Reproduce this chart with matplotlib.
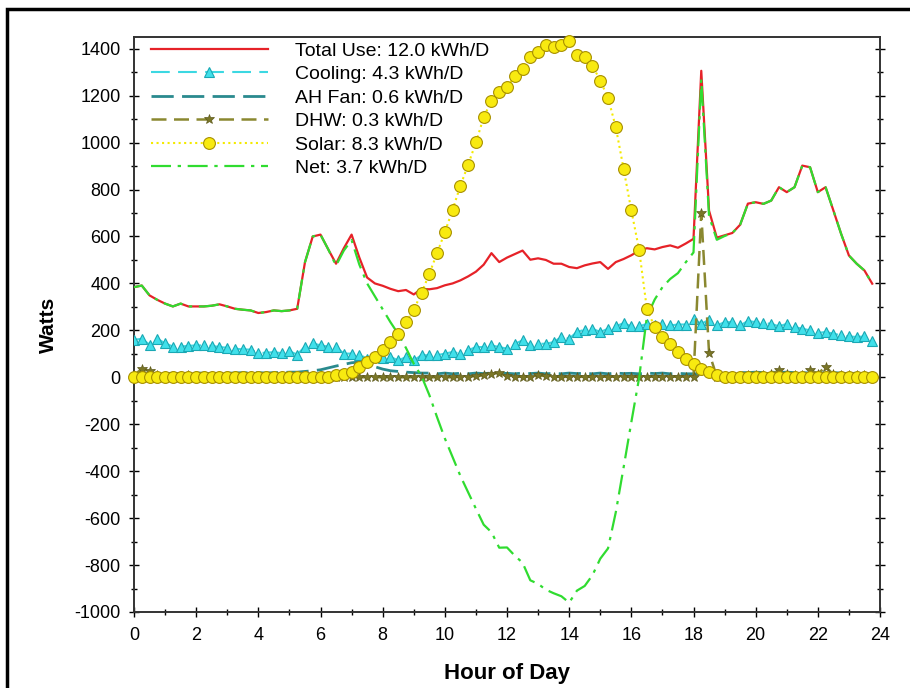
import numpy as np
import matplotlib
matplotlib.use("Agg")
import matplotlib.pyplot as plt
from matplotlib.patches import Rectangle
from matplotlib.ticker import MultipleLocator

plt.rcParams["font.family"] = ["Liberation Sans", "DejaVu Sans"]
plt.rcParams["axes.unicode_minus"] = False

# 15-minute data, 0:00 .. 23:45
hours = np.arange(96) * 0.25

total_use = [384, 391, 349, 330, 314, 302, 314, 302,
             302, 302, 305, 311, 302, 292, 288, 285,
             274, 278, 285, 282, 285, 292, 490, 600,
             608, 545, 484, 550, 608, 510, 425, 400,
             390, 377, 367, 372, 353, 377, 375, 380,
             392, 400, 413, 430, 450, 480, 529, 491,
             510, 525, 540, 501, 507, 500, 484, 484,
             470, 465, 477, 485, 491, 462, 491, 504,
             520, 540, 550, 545, 555, 562, 552, 570,
             590, 1306, 710, 595, 605, 615, 650, 740,
             746, 739, 753, 810, 789, 810, 902, 895,
             789, 810, 711, 611, 519, 484, 455, 399]

cooling = [160, 164, 139, 164, 145, 131, 131, 134,
           136, 136, 134, 129, 126, 122, 119, 118,
           103, 105, 107, 103, 111, 97, 131, 145,
           136, 131, 129, 101, 101, 97, 79, 87,
           82, 87, 72, 86, 72, 94, 94, 94,
           101, 108, 101, 115, 129, 129, 136, 129,
           122, 143, 157, 136, 143, 143, 150, 172,
           165, 193, 203, 207, 193, 207, 217, 231,
           217, 217, 228, 221, 228, 221, 225, 225,
           249, 228, 245, 221, 235, 235, 221, 240,
           235, 231, 228, 217, 228, 214, 207, 200,
           189, 193, 186, 179, 174, 172, 174, 155]

ah_fan = [15, 18, 15, 12, 15, 18, 15, 15,
          18, 18, 15, 15, 18, 18, 20, 18,
          20, 18, 20, 20, 22, 22, 25, 28,
          32, 40, 48, 55, 62, 65, 58, 45,
          35, 28, 25, 22, 20, 18, 18, 15,
          18, 15, 17, 15, 18, 16, 18, 15,
          17, 15, 18, 16, 18, 15, 17, 15,
          18, 16, 17, 15, 18, 15, 18, 16,
          17, 15, 18, 16, 18, 15, 17, 15,
          15, 15, 12, 10, 15, 18, 20, 20,
          22, 20, 22, 20, 22, 20, 20, 18,
          20, 18, 20, 18, 15, 18, 15, 15]

dhw = [10, 35, 25, 8, 5, 5, 5, 8,
       5, 5, 5, 5, 5, 5, 5, 5,
       5, 5, 5, 5, 5, 5, 5, 5,
       5, 5, 3, 0, 0, 0, 0, 0,
       0, 0, 0, 0, 0, 0, 0, 0,
       0, 0, 2, 3, 5, 8, 15, 18,
       5, 2, 3, 2, 8, 5, 3, 2,
       2, 2, 2, 2, 2, 3, 2, 2,
       2, 2, 2, 3, 2, 2, 3, 3,
       2, 700, 105, 3, 5, 5, 5, 8,
       8, 10, 12, 30, 12, 8, 10, 32,
       15, 45, 12, 8, 8, 10, 8, 5]

solar = [0, 0, 0, 0, 0, 0, 0, 0,
         0, 0, 0, 0, 0, 0, 0, 0,
         0, 0, 0, 0, 0, 0, 0, 0,
         0, 0, 8, 13, 23, 44, 65, 86,
         118, 150, 183, 235, 288, 359, 441, 529,
         618, 714, 816, 906, 1001, 1108, 1179, 1217,
         1235, 1285, 1315, 1366, 1384, 1417, 1406, 1417,
         1434, 1374, 1366, 1328, 1264, 1191, 1066, 889,
         711, 543, 292, 214, 171, 143, 108, 80,
         58, 37, 23, 9, 3, 0, 0, 0,
         0, 0, 0, 0, 0, 0, 0, 0,
         0, 0, 0, 0, 0, 0, 0, 0]

net = [384, 391, 349, 330, 314, 302, 314, 302,
       302, 302, 305, 311, 302, 292, 288, 285,
       274, 278, 285, 282, 285, 292, 490, 600,
       608, 545, 476, 540, 585, 480, 400, 345,
       290, 235, 185, 125, 58, 5, -75, -170,
       -260, -340, -420, -490, -560, -628, -660, -726,
       -725, -760, -790, -865, -880, -905, -920, -933,
       -960, -909, -889, -843, -773, -729, -575, -385,
       -191, -3, 258, 331, 384, 419, 444, 490,
       532, 1269, 687, 586, 602, 615, 650, 740,
       746, 739, 753, 810, 789, 810, 902, 895,
       789, 810, 711, 611, 519, 484, 455, 399]

labels = ["Total Use: 12.0 kWh/D", "Cooling: 4.3 kWh/D", "AH Fan: 0.6 kWh/D",
          "DHW: 0.3 kWh/D", "Solar: 8.3 kWh/D", "Net: 3.7 kWh/D"]

fig = plt.figure(figsize=(9.1, 6.88), dpi=100)
ax = fig.add_axes([134 / 910, 76 / 688, 746 / 910, 575 / 688])

ax.plot(hours, total_use, color="#e62228", lw=1.6, label=labels[0], zorder=3)
ax.plot(hours, cooling, color="#3cd8e2", lw=1.5, dashes=(9, 4),
        marker="^", ms=7.5, mfc="#40e0ea", mec="#1aa8b4", mew=0.8,
        label=labels[1], zorder=4)
ax.plot(hours, ah_fan, color="#2a8a8e", lw=2.0, dashes=(8, 3),
        label=labels[2], zorder=4)
ax.plot(hours, dhw, color="#8a8830", lw=1.8, dashes=(6, 3),
        marker="*", ms=7.5, mfc="#7a7626", mec="#5e5a1c", mew=0.5,
        label=labels[3], zorder=5)
ax.plot(hours, solar, color="#f4ea00", lw=1.5, ls=":",
        marker="o", ms=8.5, mfc="#f8ea10", mec="#a89000", mew=0.8,
        label=labels[4], zorder=7, clip_on=False)
ax.plot(hours, net, color="#30dc30", lw=1.6, dashes=(9, 3, 1.5, 3),
        label=labels[5], zorder=6)

ax.set_xlim(0, 24)
ax.set_ylim(-1000, 1450)
ax.xaxis.set_major_locator(MultipleLocator(2))
ax.xaxis.set_minor_locator(MultipleLocator(1))
ax.yaxis.set_major_locator(MultipleLocator(200))
ax.yaxis.set_minor_locator(MultipleLocator(100))
ax.tick_params(axis="both", which="major", direction="inout", length=7,
               width=1.0, labelsize=13, pad=7, right=True)
ax.tick_params(axis="both", which="minor", direction="inout", length=4,
               width=1.0, right=True)
ax.tick_params(axis="y", which="both", pad=6)
for side in ["left", "bottom", "right", "top"]:
    ax.spines[side].set_linewidth(1.4)
    ax.spines[side].set_color("#333333")

ax.set_xlabel("Hour of Day", fontsize=16, fontweight="bold", labelpad=14)
ax.set_ylabel("Watts", fontsize=15, fontweight="bold", labelpad=12)

ax.legend(loc="upper left", bbox_to_anchor=(0.006, 1.013), frameon=False,
          fontsize=14, handlelength=6.0, handletextpad=1.4,
          labelspacing=0.3, numpoints=1, borderpad=0.15)

fig.patches.append(Rectangle((7 / 910, -0.05), 1.1, (688 - 9) / 688 + 0.05,
                             transform=fig.transFigure, fill=False,
                             lw=2.5, ec="black"))

fig.savefig("out.png", dpi=100)
